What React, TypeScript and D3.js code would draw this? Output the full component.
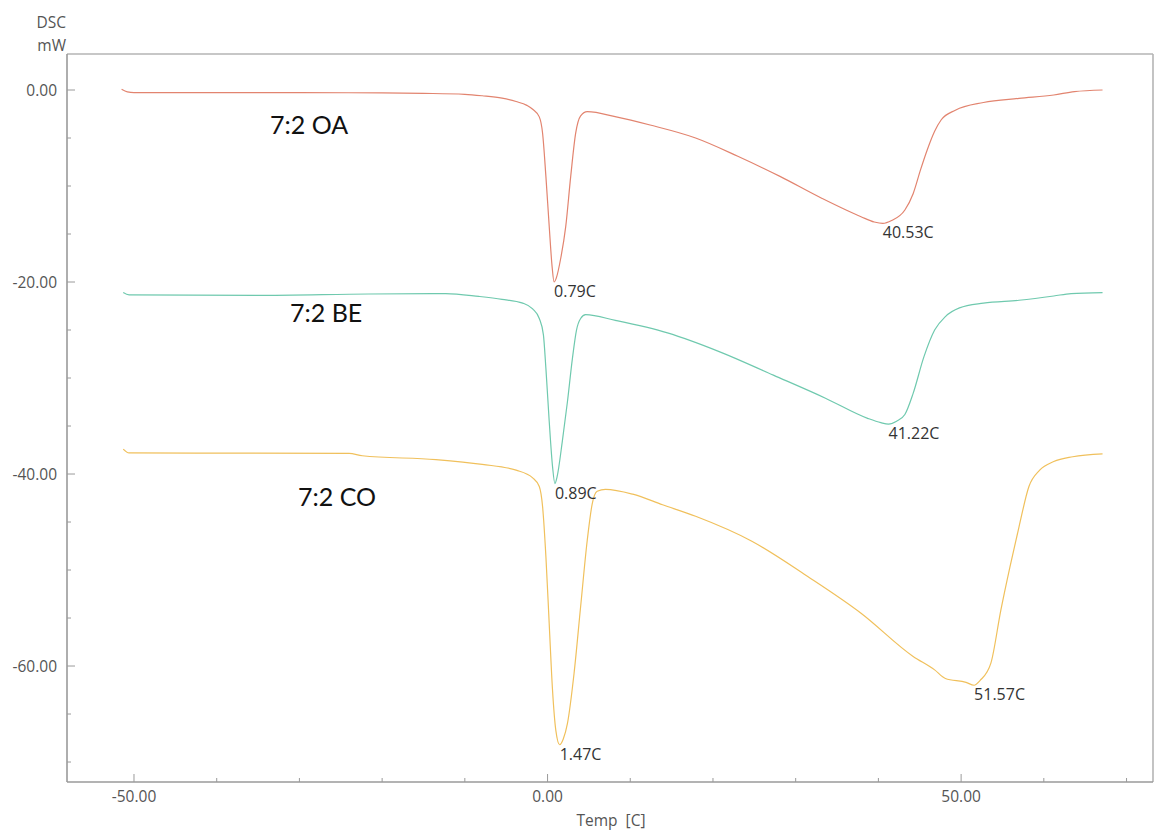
import React from "react";
import * as d3 from "d3";

// DSC heat-flow traces: [temperature °C, heat flow mW]
const oaCurve: [number, number][] = [
  [-51.5, 0.07], [-50.8, -0.2], [-50, -0.27], [-40, -0.28], [-30, -0.28], [-20, -0.3],
  [-15, -0.35], [-10, -0.45], [-7.9, -0.6], [-5.5, -0.85], [-3.8, -1.2], [-2.5, -1.6],
  [-1.8, -2.0], [-1.0, -2.8], [-0.6, -4.5], [-0.2, -9.0], [0.2, -14.2], [0.55, -18.4],
  [0.79, -20.0], [1.05, -19.6], [1.6, -17.5], [2.2, -14.2], [2.8, -9.0], [3.4, -4.5],
  [4.0, -2.7], [4.8, -2.26], [8.3, -2.8], [12.4, -3.65], [17.9, -5.0], [23.0, -6.9],
  [28.1, -9.0], [33.2, -11.3], [37.9, -13.2], [39.5, -13.75], [40.53, -13.9], [41.6, -13.6],
  [43.2, -12.5], [44.2, -10.8], [45.1, -8.3], [45.9, -6.25], [46.8, -4.3], [47.6, -3.1],
  [49.3, -2.1], [52.7, -1.3], [57.0, -0.87], [61.2, -0.52], [63.7, -0.17], [67.1, 0.0],
];

const beCurve: [number, number][] = [
  [-51.3, -21.1], [-50.6, -21.35], [-35.3, -21.4], [-21.6, -21.25], [-12.3, -21.2],
  [-8.3, -21.5], [-5.5, -21.8], [-3.0, -22.2], [-1.8, -22.8], [-1.0, -23.8], [-0.5, -25.5],
  [-0.2, -29.0], [0.2, -34.5], [0.6, -39.2], [0.89, -41.0], [1.15, -40.3], [1.8, -36.5],
  [2.4, -32.5], [3.0, -28.0], [3.5, -25.0], [4.0, -23.8], [4.6, -23.4], [8.2, -24.0],
  [14.5, -25.3], [20.9, -27.3], [27.3, -29.7], [33.6, -32.1], [38.7, -34.2], [40.3, -34.65],
  [41.22, -34.8], [42.2, -34.5], [43.2, -33.8], [44.2, -31.6], [45.5, -27.8], [46.8, -25.0],
  [48.1, -23.6], [49.8, -22.7], [52.7, -22.2], [57.0, -21.9], [61.2, -21.46], [63.3, -21.2],
  [67.1, -21.1],
];

const coCurve: [number, number][] = [
  [-51.3, -37.4], [-50.6, -37.8], [-24.0, -37.85], [-22.4, -38.1], [-13.5, -38.5],
  [-7.9, -39.0], [-3.8, -39.6], [-1.8, -40.4], [-1.0, -41.3], [-0.6, -43.4], [-0.2, -48.6],
  [0.2, -55.6], [0.6, -62.5], [1.0, -66.7], [1.47, -68.2], [1.9, -67.6], [2.4, -66.0],
  [3.2, -60.8], [4.0, -53.8], [4.8, -46.9], [5.4, -43.1], [6.0, -41.8], [7.0, -41.6],
  [10.3, -42.1], [13.9, -43.2], [17.9, -44.4], [24.7, -47.0], [31.5, -50.7], [37.9, -54.5],
  [44.2, -59.0], [46.8, -60.4], [48.1, -61.3], [50.6, -61.7], [51.57, -62.0], [52.3, -61.5],
  [53.6, -59.7], [54.8, -54.2], [55.9, -49.7], [57.0, -45.5], [58.2, -41.3], [59.5, -39.6],
  [61.2, -38.7], [63.5, -38.2], [67.1, -37.9],
];

const seriesNames = ["7:2 OA", "7:2 BE", "7:2 CO"];
const seriesColors = ["#e2846f", "#6fc9ae", "#f0c05c"];
const seriesCurves = [oaCurve, beCurve, coCurve];

// Peak annotations: [temperature, heat flow]
const peakMarks: [number, number][] = [
  [0.79, -20.0], [40.53, -13.9],
  [0.89, -41.0], [41.22, -34.8],
  [1.47, -68.2], [51.57, -62.0],
];

const xMajorTicks = [-50, 0, 50];
const xMinorTicks = [-40, -30, -20, -10, 10, 20, 30, 40, 60, 70];
const yMajorTicks = [0, -20, -40, -60];
const yMinorTicks = [-5, -10, -15, -25, -30, -35, -45, -50, -55, -65, -70];

const W = 1155;
const H = 833;
const left = 67, right = 1153, top = 54, bottom = 782;

// two decimals with a plain hyphen for negatives
const fmt = (v: number) => v.toFixed(2);

export default function App() {
  const x = d3.scaleLinear().domain([-58.1, 73.2]).range([left, right]);
  const y = d3.scaleLinear().domain([3.75, -72.08]).range([top, bottom]);
  const line = d3
    .line<[number, number]>()
    .x((d) => x(d[0]))
    .y((d) => y(d[1]))
    .curve(d3.curveMonotoneX);

  const tickFont = "'Open Sans', 'Noto Sans', sans-serif";
  const axisColor = "#9a9a9a";
  const labelPos = [
    { x: 270, y: 124 },
    { x: 290, y: 312 },
    { x: 298, y: 496 },
  ];

  return (
    <svg
      width={W}
      height={H}
      style={{ position: "absolute", left: 0, top: 0, background: "#fff" }}
    >
      {/* frame */}
      <line x1={left} x2={right} y1={top} y2={top} stroke="#b5b5b5" strokeWidth={1.6} />
      <line x1={right} x2={right} y1={top} y2={bottom} stroke="#b5b5b5" strokeWidth={1.6} />
      <line x1={left} x2={left} y1={top} y2={bottom} stroke={axisColor} strokeWidth={1.6} />
      <line x1={left} x2={right} y1={bottom} y2={bottom} stroke={axisColor} strokeWidth={1.6} />

      {/* y ticks */}
      {yMajorTicks.map((t) => (
        <g key={"ym" + t}>
          <line x1={left} x2={left + 8} y1={y(t)} y2={y(t)} stroke={axisColor} strokeWidth={1} />
          <text
            x={57}
            y={y(t)}
            textAnchor="end"
            dominantBaseline="central"
            fontFamily={tickFont}
            fontSize={15.5}
            fill="#555"
          >
            {fmt(t)}
          </text>
        </g>
      ))}
      {yMinorTicks.map((t) => (
        <line key={"yn" + t} x1={left} x2={left + 4} y1={y(t)} y2={y(t)} stroke={axisColor} strokeWidth={1} />
      ))}

      {/* x ticks */}
      {xMajorTicks.map((t) => (
        <g key={"xm" + t}>
          <line x1={x(t)} x2={x(t)} y1={bottom} y2={bottom - 8} stroke={axisColor} strokeWidth={1} />
          <text
            x={x(t)}
            y={796}
            textAnchor="middle"
            dominantBaseline="central"
            fontFamily={tickFont}
            fontSize={15.5}
            fill="#555"
          >
            {fmt(t)}
          </text>
        </g>
      ))}
      {xMinorTicks.map((t) => (
        <line key={"xn" + t} x1={x(t)} x2={x(t)} y1={bottom} y2={bottom - 4} stroke={axisColor} strokeWidth={1} />
      ))}

      {/* axis titles */}
      <text x={66} y={22} textAnchor="end" dominantBaseline="central" fontFamily={tickFont} fontSize={15.5} fill="#555">
        DSC
      </text>
      <text x={66} y={45} textAnchor="end" dominantBaseline="central" fontFamily={tickFont} fontSize={15.5} fill="#555">
        mW
      </text>
      <text x={611} y={820} textAnchor="middle" dominantBaseline="central" fontFamily={tickFont} fontSize={15.5} fill="#555" xmlSpace="preserve">
        {"Temp  [C]"}
      </text>

      {/* traces */}
      {seriesCurves.map((c, i) => (
        <path key={seriesNames[i]} d={line(c) ?? ""} fill="none" stroke={seriesColors[i]} strokeWidth={1.2} />
      ))}

      {/* peak labels */}
      {peakMarks.map(([t, v]) => (
        <text
          key={"pk" + t}
          x={x(t)}
          y={y(v) + 9}
          dominantBaseline="central"
          fontFamily={tickFont}
          fontSize={16}
          fill="#333"
        >
          {fmt(t) + "C"}
        </text>
      ))}

      {/* series names */}
      {seriesNames.map((n, i) => (
        <text
          key={"nm" + n}
          x={labelPos[i].x}
          y={labelPos[i].y}
          dominantBaseline="central"
          fontFamily="Lato, 'Open Sans', sans-serif"
          fontSize={25}
          fill="#111"
        >
          {n}
        </text>
      ))}
    </svg>
  );
}
